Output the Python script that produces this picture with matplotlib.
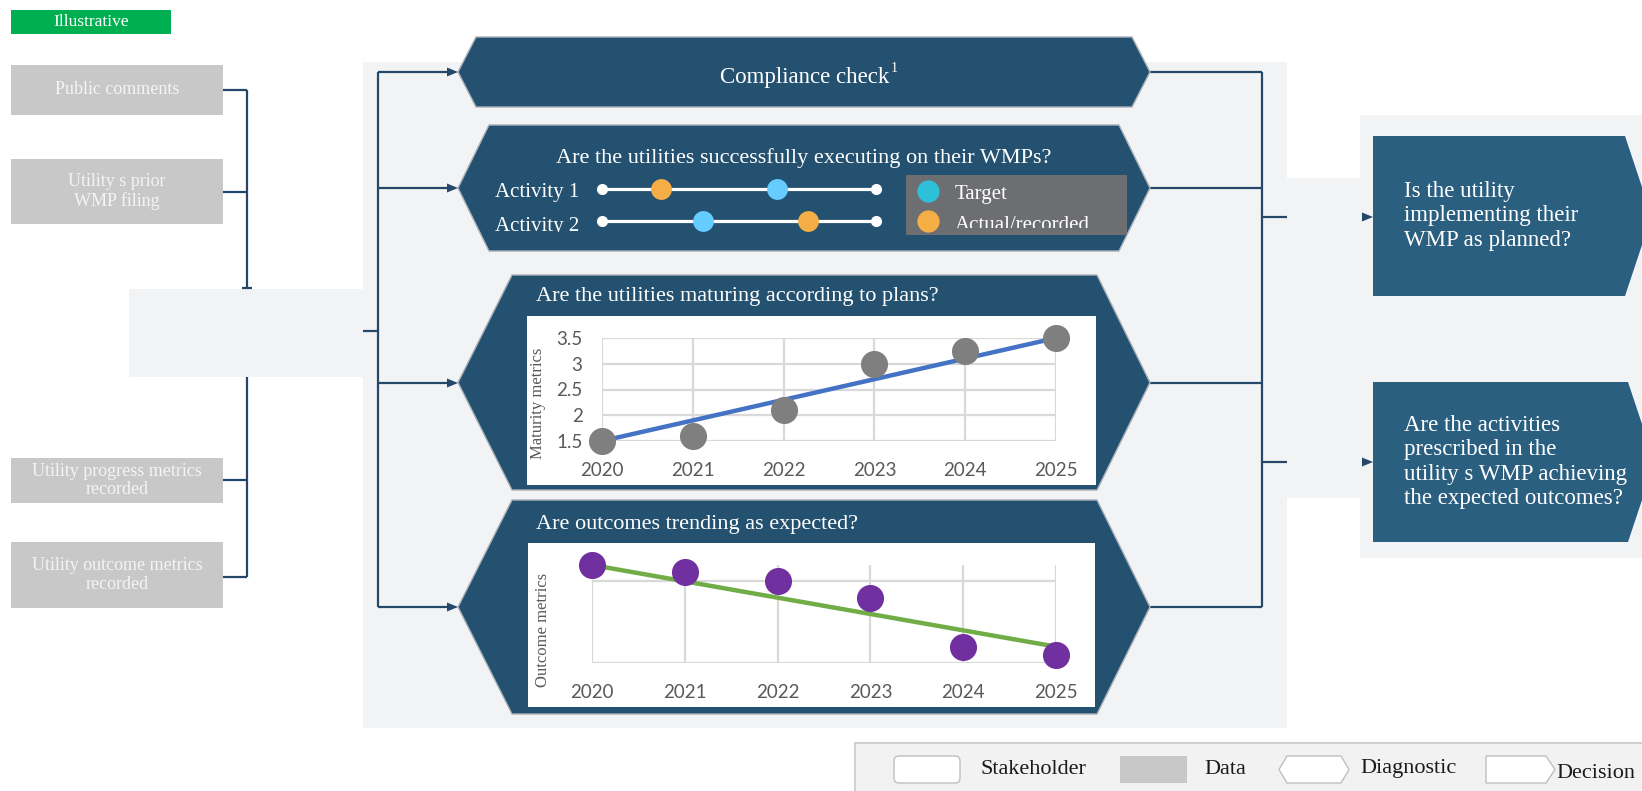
import matplotlib
matplotlib.use('Agg')
import matplotlib.pyplot as plt
from matplotlib.patches import Polygon, Rectangle, FancyBboxPatch
from matplotlib.transforms import Bbox

# ---------------- data ----------------
years = [2020, 2021, 2022, 2023, 2024, 2025]
maturity_values = [1.5, 1.6, 2.1, 3.0, 3.25, 3.5]
maturity_trend = [1.5, 3.5]            # trend line at first / last year
maturity_ticks = [1.5, 2, 2.5, 3, 3.5]
maturity_tick_labels = ['1.5', '2', '2.5', '3', '3.5']

outcome_values = [6.0, 5.55, 5.0, 4.0, 1.0, 0.5]
outcome_trend = [6.0, 1.0]
outcome_grid = [0, 5]

activity_names = ['Activity 1', 'Activity 2']
activity_actual = [0.215, 0.75]
activity_target = [0.64, 0.37]

data_sources = ['Public comments', 'Utility s prior\nWMP filing',
                'Utility progress metrics\nrecorded', 'Utility outcome metrics\nrecorded']
diagnostic_titles = ['Compliance check',
                     'Are the utilities successfully executing on their WMPs?',
                     'Are the utilities maturing according to plans?',
                     'Are outcomes trending as expected?']
decision_questions = ['Is the utility\nimplementing their\nWMP as planned?',
                      'Are the activities\nprescribed in the\nutility s WMP achieving\nthe expected outcomes?']
legend_labels = ['Stakeholder', 'Data', 'Diagnostic', 'Decision']
activity_legend = ['Target', 'Actual/recorded']

# ---------------- style ----------------
W, H, DPI = 1642, 791, 100
SERIF = 'Liberation Serif'
SANS = 'Lato'
NAVY = '#245170'
DEC = '#2A5F80'
BG = '#F2F3F5'
GRAYBOX = '#C8C8C8'
LINE = '#25476A'
GRID = '#D9D9D9'
TICK = '#595959'
ORANGE = '#F4AE45'
LBLUE = '#66CCFF'
CYAN = '#2EC0D8'

fig = plt.figure(figsize=(W / DPI, H / DPI), dpi=DPI)
ax = fig.add_axes([0, 0, 1, 1])
ax.set_xlim(0, W)
ax.set_ylim(H, 0)
ax.axis('off')


def rect(x0, y0, x1, y1, **kw):
    p = Rectangle((x0, y0), x1 - x0, y1 - y0, **kw)
    ax.add_patch(p)
    return p


def sub_axes(x0, y0, x1, y1):
    return fig.add_axes([x0 / W, 1 - y1 / H, (x1 - x0) / W, (y1 - y0) / H])


def line(xs, ys, lw=1.6, color=LINE, z=1):
    ax.plot(xs, ys, color=color, lw=lw, solid_capstyle='butt', zorder=z)


def arrowhead(xtip, y, length=11, half=4.5, color=LINE):
    ax.add_patch(Polygon([(xtip, y), (xtip - length, y - half), (xtip - length, y + half)],
                         closed=True, fc=color, ec='none', zorder=3))


def clipbox(x0, y0, x1, y1):
    pts = ax.transData.transform([(x0, y1), (x1, y0)])
    return Bbox.from_extents(pts[0][0], pts[0][1], pts[1][0], pts[1][1])


# ---------------- backgrounds ----------------
rect(363, 62, 1287, 728, fc=BG, ec='none', zorder=0)
rect(1286, 178, 1361, 498, fc=BG, ec='none', zorder=0)
rect(1360, 115, W + 5, 558, fc=BG, ec='none', zorder=0)
rect(129, 289, 364, 377, fc=BG, ec='none', zorder=0)

# Illustrative tag
rect(11, 10, 171, 34, fc='#00B050', ec='none', zorder=2)
ax.text(91, 22.5, 'Illustrative', color='white', fontsize=12.5, family=SERIF,
        ha='center', va='center', zorder=3)

# ---------------- data boxes ----------------
data_box_y = [(65, 115), (159, 224), (458, 503), (542, 608)]
for (y0, y1), lab in zip(data_box_y, data_sources):
    rect(11, y0, 223, y1, fc=GRAYBOX, ec='none', zorder=2)
    ax.text(117, (y0 + y1) / 2, lab, color='#F4F4F4', fontsize=13, family=SERIF,
            ha='center', va='center', linespacing=1.1, zorder=3)

# left connectors
line([223, 247], [90, 90]); line([223, 247], [192, 192])
line([247, 247], [90, 288]); line([242, 252], [288, 288])
line([247, 247], [377, 577]); line([223, 247], [480, 480]); line([223, 247], [577, 577])

# centre connectors
hex_mid_y = [72, 188, 383, 607]
line([378, 378], [72, 607]); line([363, 378], [331, 331])
for y in hex_mid_y:
    line([378, 448], [y, y])
    arrowhead(458, y)

# right connectors
for y in hex_mid_y:
    line([1150, 1262], [y, y])
line([1262, 1262], [72, 607])
for y in (217, 462):
    line([1262, 1287], [y, y])
    arrowhead(1373, y)

# ---------------- diagnostic hexagons ----------------
hex_shapes = [(458, 476, 1132, 1150, 37, 107),
              (458, 489, 1119, 1150, 125, 251),
              (458, 512, 1097, 1150, 275, 490),
              (458, 512, 1097, 1150, 500, 714)]
for xl, xa, xb, xr, yt, yb in hex_shapes:
    ym = (yt + yb) / 2
    ax.add_patch(Polygon([(xl, ym), (xa, yt), (xb, yt), (xr, ym), (xb, yb), (xa, yb)],
                         closed=True, fc=NAVY, ec='#A9B1BA', lw=1.0, zorder=2))

# Compliance check
t = ax.text(805, 77, diagnostic_titles[0], color='white', fontsize=16.5, family=SERIF,
            ha='center', va='center', zorder=4)
ax.annotate('1', xy=(1, 1), xycoords=t, xytext=(1, 3), textcoords='offset points',
            color='white', fontsize=10, family=SERIF, ha='left', va='top', zorder=4)

# Hex 2: execution
ax.text(804, 158, diagnostic_titles[1], color='white', fontsize=16, family=SERIF,
        ha='center', va='center', zorder=4)
for name, yb in zip(activity_names, [197, 231]):
    tt = ax.text(495, yb, name, color='white', fontsize=15, family=SERIF,
                 ha='left', va='baseline', zorder=4)
    tt.set_clip_box(clipbox(480, 120, 600, 232))
    tt.set_clip_on(True)

ax_a = sub_axes(602, 173, 876, 237)
ax_a.set_xlim(0, 1)
ax_a.set_ylim(2.5, 0.5)
ax_a.axis('off')
for i in range(len(activity_names)):
    r = i + 1
    ax_a.plot([0, 1], [r, r], color='white', lw=2.3, zorder=1, clip_on=False)
    ax_a.plot([0, 1], [r, r], 'o', color='white', ms=7, zorder=2, clip_on=False)
    ax_a.plot([activity_actual[i]], [r], 'o', color=ORANGE, ms=15, mec='none', zorder=3, clip_on=False)
    ax_a.plot([activity_target[i]], [r], 'o', color=LBLUE, ms=15, mec='none', zorder=3, clip_on=False)

# legend box for activities
rect(906, 175, 1127, 235, fc='#6D6E71', ec='none', zorder=3)
for lab, col, y, yb in zip(activity_legend, [CYAN, ORANGE], [191, 221], [199, 230]):
    ax.plot([928], [y], 'o', color=col, ms=16, mec='none', zorder=4)
    tt = ax.text(955, yb, lab, color='white', fontsize=15, family=SERIF,
                 ha='left', va='baseline', zorder=4)
    tt.set_clip_box(clipbox(906, 175, 1127, 228))
    tt.set_clip_on(True)

# Hex 3: maturity chart
ax.text(536, 297, diagnostic_titles[2], color='white', fontsize=16, family=SERIF,
        ha='left', va='center', zorder=4)
rect(527, 316, 1096, 485, fc='white', ec='none', zorder=3)
ax.text(538, 403, 'Maturity metrics', rotation=90, color=TICK, fontsize=12, family=SERIF,
        ha='center', va='center', zorder=4)

ax_m = sub_axes(602, 338, 1056, 441)
ax_m.patch.set_visible(False)
ax_m.set_xlim(years[0], years[-1])
ax_m.set_ylim(maturity_ticks[0], maturity_ticks[-1])
ax_m.set_xticks(years)
ax_m.set_xticklabels([str(y) for y in years])
ax_m.set_yticks(maturity_ticks)
ax_m.set_yticklabels(maturity_tick_labels)
for s in ax_m.spines.values():
    s.set_visible(False)
ax_m.grid(True, color=GRID, lw=1.6)
ax_m.set_axisbelow(True)
ax_m.tick_params(length=0, labelsize=13.5, labelcolor=TICK)
ax_m.tick_params(axis='x', pad=15)
ax_m.tick_params(axis='y', pad=14)
for lab in ax_m.get_xticklabels() + ax_m.get_yticklabels():
    lab.set_family(SANS)
ax_m.plot([years[0], years[-1]], maturity_trend, color='#4472C4', lw=3.2, zorder=2, clip_on=False)
ax_m.plot(years, maturity_values, 'o', color='#7F7F7F', ms=19.5, mec='none', zorder=3, clip_on=False)

# Hex 4: outcome chart
ax.text(536, 525, diagnostic_titles[3], color='white', fontsize=16, family=SERIF,
        ha='left', va='center', zorder=4)
rect(528, 543, 1095, 707, fc='white', ec='none', zorder=3)
ax.text(543, 630, 'Outcome metrics', rotation=90, color=TICK, fontsize=12, family=SERIF,
        ha='center', va='center', zorder=4)

ax_o = sub_axes(592, 565, 1056, 663)
ax_o.patch.set_visible(False)
ax_o.set_xlim(years[0], years[-1])
ax_o.set_ylim(0, 6)
ax_o.set_xticks(years)
ax_o.set_xticklabels([str(y) for y in years])
ax_o.set_yticks(outcome_grid)
ax_o.set_yticklabels([])
for s in ax_o.spines.values():
    s.set_visible(False)
ax_o.grid(True, color=GRID, lw=1.6)
ax_o.set_axisbelow(True)
ax_o.tick_params(length=0, labelsize=13.5, labelcolor=TICK)
ax_o.tick_params(axis='x', pad=15)
for lab in ax_o.get_xticklabels():
    lab.set_family(SANS)
ax_o.plot([years[0], years[-1]], outcome_trend, color='#70AD47', lw=3.2, zorder=2, clip_on=False)
ax_o.plot(years, outcome_values, 'o', color='#7030A0', ms=19.5, mec='none', zorder=3, clip_on=False)

# ---------------- decision boxes ----------------
dec_shapes = [(1373, 1625, 136, 296), (1373, 1628, 382, 542)]
for (x0, x1, y0, y1), q in zip(dec_shapes, decision_questions):
    ym = (y0 + y1) / 2
    ax.add_patch(Polygon([(x0, y0), (x1, y0), (x1 + (ym - y0) / 3, ym), (x1, y1), (x0, y1)],
                         closed=True, fc=DEC, ec='none', zorder=2))
    ax.text(1404, ym, q, color='white', fontsize=16.5, family=SERIF,
            ha='left', va='center', linespacing=1.2, zorder=4)

# ---------------- bottom legend ----------------
rect(855, 743, W + 10, H + 10, fc='#F2F2F2', ec='#D0D0D0', lw=1.5, zorder=1)
ax.add_patch(FancyBboxPatch((894, 756), 66, 27, boxstyle='round,pad=0,rounding_size=5',
                            fc='white', ec='#BFBFBF', lw=1.0, zorder=2))
rect(1120, 756, 1187, 783, fc=GRAYBOX, ec='none', zorder=2)
ax.add_patch(Polygon([(1279, 769.5), (1287, 756), (1341, 756), (1349, 769.5), (1341, 783), (1287, 783)],
                     closed=True, fc='white', ec='#BFBFBF', lw=1.0, zorder=2))
ax.add_patch(Polygon([(1486, 756), (1546, 756), (1555, 769.5), (1546, 783), (1486, 783)],
                     closed=True, fc='white', ec='#BFBFBF', lw=1.0, zorder=2))
for lab, x, y in zip(legend_labels, [981, 1204, 1360, 1556], [769, 769, 769, 774]):
    ax.text(x, y, lab, color='#1A1A1A', fontsize=16, family=SERIF, ha='left', va='center', zorder=3)

fig.savefig('out.png', dpi=DPI)
